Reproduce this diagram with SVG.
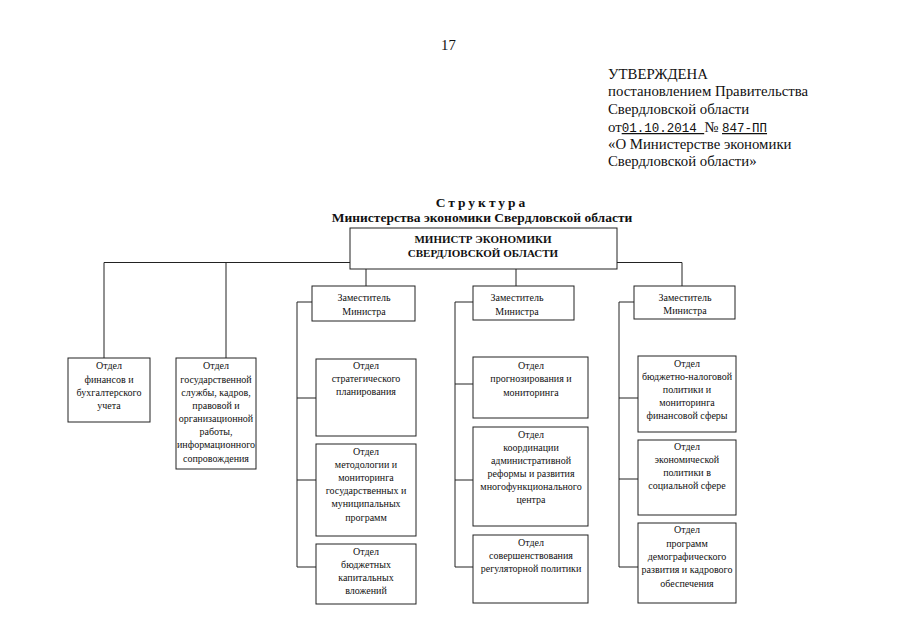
<svg xmlns="http://www.w3.org/2000/svg" width="905" height="640" viewBox="0 0 905 640">
<style>
.bg{fill:#fff}
.box{fill:#fff;stroke:#222;stroke-width:1}
.ln{fill:none;stroke:#222;stroke-width:1}
text{font-family:"Liberation Serif","Times New Roman",serif;fill:#111}
.hd{font-size:14.8px}
.mono{font-family:"Liberation Mono","Courier New",monospace;font-size:12.5px}
.ttl{font-size:13.5px;font-weight:bold;text-anchor:middle}
.mn{font-size:11px;font-weight:bold;text-anchor:middle}
.t{font-size:10px;text-anchor:middle}
</style>
<rect class="bg" width="905" height="640"/>
<g id="header">
<text x="441" y="50" class="hd">17</text>
<text x="608" y="79" class="hd">УТВЕРЖДЕНА</text>
<text x="608" y="96" class="hd">постановлением Правительства</text>
<text x="608" y="114" class="hd">Свердловской области</text>
<text x="608" y="132" class="hd">от<tspan class="mono" text-decoration="underline">01.10.2014  </tspan> № <tspan class="mono" text-decoration="underline"> 847-ПП</tspan></text>
<text x="608" y="149" class="hd">«О Министерстве экономики</text>
<text x="608" y="166" class="hd">Свердловской области»</text>
</g>
<g id="title">
<text x="482" y="207" class="ttl" letter-spacing="3">Структура</text>
<text x="482" y="222" class="ttl">Министерства экономики Свердловской области</text>
</g>
<g id="connectors">
<path class="ln" d="M350,262.5 H104 V358 M226,262.5 V358"/>
<path class="ln" d="M617,262.5 H682 V286"/>
<path class="ln" d="M366,269 V286 M516,269 V286"/>
<path class="ln" d="M312,302 H297 V567 H316 M297,398 H316 M297,480 H316"/>
<path class="ln" d="M473,302 H455 V567 H473 M455,384 H473 M455,480 H473"/>
<path class="ln" d="M634,302 H619 V567 H638 M619,398 H638 M619,479 H638"/>
</g>
<g id="minister">
<rect class="box" x="350" y="228" width="267" height="41"/>
<text x="483" y="243" class="mn">МИНИСТР ЭКОНОМИКИ</text>
<text x="483" y="257" class="mn">СВЕРДЛОВСКОЙ ОБЛАСТИ</text>
</g>
<g id="dept-finance">
<rect class="box" x="68" y="358" width="82" height="64"/>
<text class="t" x="109" y="369">Отдел</text>
<text class="t" x="109" y="383">финансов и</text>
<text class="t" x="109" y="396">бухгалтерского</text>
<text class="t" x="109" y="409">учета</text>
</g>
<g id="dept-civil-service">
<rect class="box" x="176" y="358" width="80" height="111"/>
<text class="t" x="216" y="369">Отдел</text>
<text class="t" x="216" y="383">государственной</text>
<text class="t" x="216" y="396">службы, кадров,</text>
<text class="t" x="216" y="409">правовой и</text>
<text class="t" x="216" y="422">организационной</text>
<text class="t" x="216" y="435">работы,</text>
<text class="t" x="216" y="448">информационного</text>
<text class="t" x="216" y="462">сопровождения</text>
</g>
<g id="deputy-1">
<rect class="box" x="312" y="286" width="103" height="35"/>
<text class="t" x="364" y="301">Заместитель</text>
<text class="t" x="364" y="315">Министра</text>
</g>
<g id="dept-strategic">
<rect class="box" x="316" y="359" width="100" height="77"/>
<text class="t" x="366" y="369">Отдел</text>
<text class="t" x="366" y="382">стратегического</text>
<text class="t" x="366" y="395">планирования</text>
</g>
<g id="dept-methodology">
<rect class="box" x="316" y="444" width="100" height="92"/>
<text class="t" x="366" y="455">Отдел</text>
<text class="t" x="366" y="468">методологии и</text>
<text class="t" x="366" y="481">мониторинга</text>
<text class="t" x="366" y="494">государственных и</text>
<text class="t" x="366" y="507">муниципальных</text>
<text class="t" x="366" y="521">программ</text>
</g>
<g id="dept-capital">
<rect class="box" x="316" y="544" width="100" height="60"/>
<text class="t" x="366" y="555">Отдел</text>
<text class="t" x="366" y="568">бюджетных</text>
<text class="t" x="366" y="581">капитальных</text>
<text class="t" x="366" y="594">вложений</text>
</g>
<g id="deputy-2">
<rect class="box" x="473" y="286" width="101" height="34"/>
<text class="t" x="517" y="301">Заместитель</text>
<text class="t" x="517" y="315">Министра</text>
</g>
<g id="dept-forecasting">
<rect class="box" x="473" y="357" width="115" height="61"/>
<text class="t" x="531" y="369">Отдел</text>
<text class="t" x="531" y="382">прогнозирования и</text>
<text class="t" x="531" y="396">мониторинга</text>
</g>
<g id="dept-admin-reform">
<rect class="box" x="473" y="427" width="115" height="99"/>
<text class="t" x="531" y="438">Отдел</text>
<text class="t" x="531" y="451">координации</text>
<text class="t" x="531" y="464">административной</text>
<text class="t" x="531" y="477">реформы и развития</text>
<text class="t" x="531" y="490">многофункционального</text>
<text class="t" x="531" y="503">центра</text>
</g>
<g id="dept-regulatory">
<rect class="box" x="473" y="535" width="115" height="68"/>
<text class="t" x="531" y="546">Отдел</text>
<text class="t" x="531" y="559">совершенствования</text>
<text class="t" x="531" y="572">регуляторной политики</text>
</g>
<g id="deputy-3">
<rect class="box" x="634" y="286" width="101" height="33"/>
<text class="t" x="685" y="301">Заместитель</text>
<text class="t" x="685" y="314">Министра</text>
</g>
<g id="dept-budget-tax">
<rect class="box" x="638" y="356" width="98" height="76"/>
<text class="t" x="687" y="367">Отдел</text>
<text class="t" x="687" y="380">бюджетно-налоговой</text>
<text class="t" x="687" y="393">политики и</text>
<text class="t" x="687" y="406">мониторинга</text>
<text class="t" x="687" y="419">финансовой сферы</text>
</g>
<g id="dept-social">
<rect class="box" x="638" y="440" width="98" height="75"/>
<text class="t" x="687" y="450">Отдел</text>
<text class="t" x="687" y="463">экономической</text>
<text class="t" x="687" y="476">политики в</text>
<text class="t" x="687" y="489">социальной сфере</text>
</g>
<g id="dept-demographic">
<rect class="box" x="638" y="523" width="98" height="80"/>
<text class="t" x="687" y="533">Отдел</text>
<text class="t" x="687" y="547">программ</text>
<text class="t" x="687" y="560">демографического</text>
<text class="t" x="687" y="573">развития и кадрового</text>
<text class="t" x="687" y="587">обеспечения</text>
</g>
</svg>
